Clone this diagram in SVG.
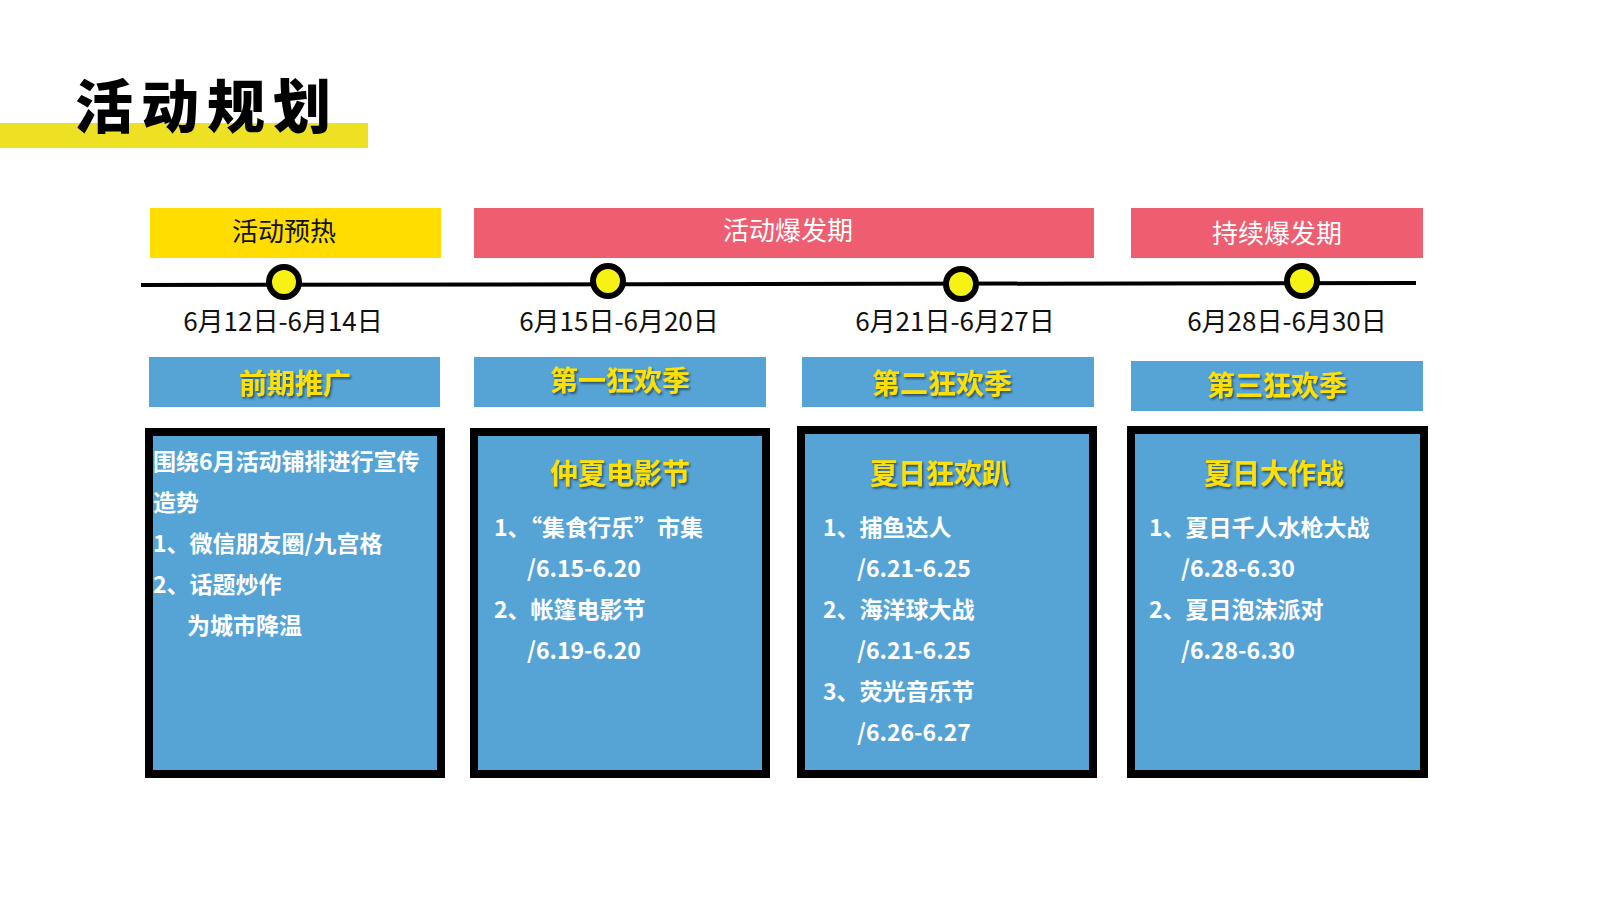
<svg xmlns="http://www.w3.org/2000/svg" width="1600" height="900" viewBox="0 0 1600 900">
<defs>
<filter id="sh" x="-10%" y="-10%" width="130%" height="140%"><feDropShadow dx="1.5" dy="2" stdDeviation="1" flood-color="#000" flood-opacity="0.5"/></filter>
</defs>
<style>
text{font-family:"Noto Sans CJK SC","Noto Sans",sans-serif}
.date{font-size:26px;fill:#111;text-anchor:middle}
.bar{font-size:26px;text-anchor:middle}
.lab{font-size:28px;font-weight:bold;fill:#FFE000;text-anchor:middle;filter:url(#sh)}
.card{fill:#56A4D6;stroke:#000;stroke-width:8}
.t{font-size:23px;font-weight:bold;fill:#fff}
.dot{fill:#F5F214;stroke:#000;stroke-width:6}
.lb{fill:#56A4D6}
</style>
<rect width="1600" height="900" fill="#fff"/>
<g id="title">
<rect x="0" y="123" width="368" height="25" fill="#EEE022"/>
<text x="75" y="128" font-size="58" font-weight="900" letter-spacing="8" fill="#000" style="font-family:'Noto Sans CJK SC',serif">活动规划</text>
</g>
<g id="phases">
<rect x="150" y="208" width="291" height="50" fill="#FFDD00"/>
<text class="bar" x="284" y="241" fill="#111">活动预热</text>
<rect x="474" y="208" width="620" height="50" fill="#EF5D71"/>
<text class="bar" x="788" y="240" fill="#fff">活动爆发期</text>
<rect x="1131" y="208" width="292" height="50" fill="#EF5D71"/>
<text class="bar" x="1277" y="243" fill="#fff">持续爆发期</text>
</g>
<g id="connectors">
<line x1="141" y1="285" x2="1416" y2="283" stroke="#000" stroke-width="4"/>
</g>
<g id="dots">
<circle class="dot" cx="284" cy="282" r="15"/>
<circle class="dot" cx="608" cy="281" r="15"/>
<circle class="dot" cx="961" cy="284" r="15"/>
<circle class="dot" cx="1302" cy="281" r="15"/>
</g>
<g id="dates">
<text class="date" x="283" y="331">6月12日-6月14日</text>
<text class="date" x="619" y="331">6月15日-6月20日</text>
<text class="date" x="955" y="331">6月21日-6月27日</text>
<text class="date" x="1287" y="331">6月28日-6月30日</text>
</g>
<g id="node1">
<rect class="lb" x="149" y="357" width="291" height="50"/>
<text class="lab" x="295" y="394">前期推广</text>
<rect class="card" x="149" y="432" width="292" height="342"/>
<text class="t" x="153" y="470">围绕6月活动铺排进行宣传</text>
<text class="t" x="153" y="511">造势</text>
<text class="t" x="153" y="552">1、微信朋友圈/九宫格</text>
<text class="t" x="153" y="593">2、话题炒作</text>
<text class="t" x="187" y="634">为城市降温</text>
</g>
<g id="node2">
<rect class="lb" x="474" y="357" width="292" height="50"/>
<text class="lab" x="620" y="391">第一狂欢季</text>
<rect class="card" x="474" y="432" width="292" height="342"/>
<text class="lab" x="620" y="484">仲夏电影节</text>
<text class="t" x="494" y="536">1、“集食行乐”市集</text>
<text class="t" x="527" y="577">/6.15-6.20</text>
<text class="t" x="494" y="618">2、帐篷电影节</text>
<text class="t" x="527" y="659">/6.19-6.20</text>
</g>
<g id="node3">
<rect class="lb" x="802" y="357" width="292" height="50"/>
<text class="lab" x="942" y="394">第二狂欢季</text>
<rect class="card" x="801" y="430" width="292" height="344"/>
<text class="lab" x="940" y="484">夏日狂欢趴</text>
<text class="t" x="823" y="536">1、捕鱼达人</text>
<text class="t" x="857" y="577">/6.21-6.25</text>
<text class="t" x="823" y="618">2、海洋球大战</text>
<text class="t" x="857" y="659">/6.21-6.25</text>
<text class="t" x="823" y="700">3、荧光音乐节</text>
<text class="t" x="857" y="741">/6.26-6.27</text>
</g>
<g id="node4">
<rect class="lb" x="1131" y="361" width="292" height="50"/>
<text class="lab" x="1277" y="396">第三狂欢季</text>
<rect class="card" x="1131" y="430" width="293" height="344"/>
<text class="lab" x="1274" y="484">夏日大作战</text>
<text class="t" x="1149" y="536">1、夏日千人水枪大战</text>
<text class="t" x="1181" y="577">/6.28-6.30</text>
<text class="t" x="1149" y="618">2、夏日泡沫派对</text>
<text class="t" x="1181" y="659">/6.28-6.30</text>
</g>
</svg>
